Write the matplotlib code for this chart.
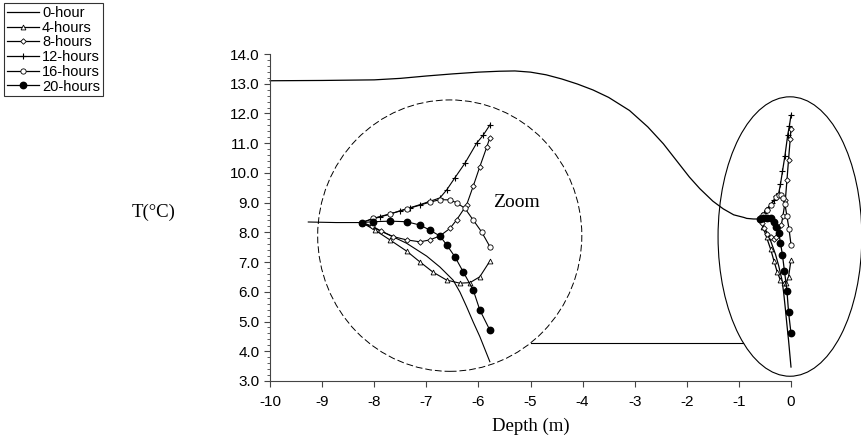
import numpy as np
import matplotlib
matplotlib.use("Agg")
import matplotlib.pyplot as plt
from matplotlib.patches import Ellipse
from matplotlib.ticker import MultipleLocator, FormatStrFormatter

plt.rcParams["font.family"] = ["Liberation Sans", "DejaVu Sans"]
plt.rcParams["axes.unicode_minus"] = False

# ---- data (depth in m, temperature in degC) ----
depth_0h = [-10, -9, -8, -7.5, -7, -6.5, -6, -5.6, -5.3, -5.0, -4.7, -4.4, -4.1, -3.8, -3.5,
            -3.1, -2.75, -2.45, -2.2, -1.95, -1.75, -1.5, -1.3, -1.1, -0.9,
            -0.85, -0.72, -0.60, -0.50, -0.39, -0.296, -0.234, -0.172, -0.140,
            -0.109, -0.078, -0.047, 0.0]
temp_0h = [13.1, 13.11, 13.13, 13.18, 13.26, 13.33, 13.39, 13.42, 13.43, 13.39, 13.3, 13.16, 12.99, 12.79, 12.54,
           12.1, 11.55, 10.98, 10.42, 9.86, 9.47, 9.05, 8.79, 8.59, 8.5,
           8.47, 8.45, 8.45, 8.11, 7.71, 7.25, 6.86, 6.39, 5.96,
           5.44, 4.89, 4.37, 3.47]

depth_4h = [-0.600, -0.538, -0.468, -0.390, -0.327, -0.267, -0.202, -0.140, -0.093, -0.047, 0.0]
temp_4h = [8.45, 8.18, 7.83, 7.43, 7.04, 6.68, 6.39, 6.28, 6.30, 6.51, 7.07]

depth_8h = [-0.600, -0.552, -0.510, -0.454, -0.390, -0.327, -0.281, -0.234, -0.187, -0.156,
            -0.109, -0.078, -0.047, -0.015, 0.0]
temp_8h = [8.45, 8.33, 8.15, 7.95, 7.83, 7.76, 7.83, 7.97, 8.24, 8.54,
           9.08, 9.75, 10.45, 11.14, 11.49]

depth_12h = [-0.600, -0.553, -0.514, -0.468, -0.421, -0.374, -0.327, -0.281, -0.234, -0.202,
             -0.164, -0.117, -0.062, -0.031, 0.0]
temp_12h = [8.45, 8.57, 8.65, 8.75, 8.87, 8.98, 9.09, 9.21, 9.33, 9.62,
            10.05, 10.57, 11.29, 11.58, 11.94]

depth_16h = [-0.600, -0.546, -0.468, -0.390, -0.281, -0.234, -0.187, -0.156, -0.117, -0.078, -0.039, 0.0]
temp_16h = [8.45, 8.60, 8.76, 8.93, 9.18, 9.27, 9.26, 9.16, 8.96, 8.54, 8.12, 7.59]

depth_20h = [-0.600, -0.546, -0.468, -0.390, -0.327, -0.281, -0.234, -0.202, -0.164, -0.125,
             -0.078, -0.047, 0.0]
temp_20h = [8.45, 8.48, 8.50, 8.48, 8.36, 8.18, 7.97, 7.65, 7.23, 6.69,
            6.04, 5.32, 4.60]

labels = ["0-hour", "4-hours", "8-hours", "12-hours", "16-hours", "20-hours"]
depths = [depth_0h, depth_4h, depth_8h, depth_12h, depth_16h, depth_20h]
temps = [temp_0h, temp_4h, temp_8h, temp_12h, temp_16h, temp_20h]

styles = [
    dict(marker=None),
    dict(marker="^", ms=3.5, mfc="white", mec="black", mew=0.6),
    dict(marker="D", ms=2.8, mfc="white", mec="black", mew=0.6),
    dict(marker="+", ms=4, mec="black", mew=0.8),
    dict(marker="o", ms=3.8, mfc="white", mec="black", mew=0.6),
    dict(marker="o", ms=4.6, mfc="black", mec="black"),
]

# zoom inset mapping (magnified near-surface region)
ZX0, ZK = -8.24, 4.1
ZY0, ZS = 8.33, 0.94
Z_MIN_DEPTH = -0.86


def to_zoom(d, t):
    d = np.asarray(d, dtype=float)
    t = np.asarray(t, dtype=float)
    keep = d >= Z_MIN_DEPTH
    return ZX0 + (d[keep] + 0.6) * ZK, ZY0 + (t[keep] - 8.45) * ZS


fig = plt.figure(figsize=(8.62, 4.38), dpi=100)
ax = fig.add_axes([270 / 862, 1 - 381 / 438, (791 - 270) / 862, (381 - 54) / 438])

# inset circle and the ellipse around the surface region
zc = Ellipse((-6.55, 7.89), 5.07, 9.13, fill=False, ec="black", lw=0.7,
             linestyle=(0, (7, 3)), clip_on=False)
ec = Ellipse((-0.02, 7.86), 2.76, 9.4, fill=False, ec="black", lw=0.8, clip_on=False)
ax.add_patch(zc)
ax.add_patch(ec)

# connector between the two
y_c = 4.28
x_left = -6.55 + 2.535 * np.sqrt(1 - ((y_c - 7.89) / 4.565) ** 2)
x_right = -0.02 - 1.38 * np.sqrt(1 - ((y_c - 7.86) / 4.7) ** 2)
ax.plot([x_left, x_right], [y_c, y_c], color="black", lw=0.8)

handles = []
for lab, d, t, st in zip(labels, depths, temps, styles):
    h, = ax.plot(d, t, color="black", lw=0.9, label=lab, clip_on=False, **st)
    handles.append(h)
    zx, zy = to_zoom(d, t)
    ax.plot(zx, zy, color="black", lw=0.8, clip_on=False, **st)

ax.text(-5.72, 9.0, "Zoom", family="Liberation Serif", fontsize=14, va="center", ha="left")

ax.set_xlim(-10, 0)
ax.set_ylim(3, 14)
ax.xaxis.set_major_locator(MultipleLocator(1))
ax.yaxis.set_major_locator(MultipleLocator(1))
ax.yaxis.set_minor_locator(MultipleLocator(0.2))
ax.yaxis.set_major_formatter(FormatStrFormatter("%.1f"))
for s in ["top", "right"]:
    ax.spines[s].set_visible(False)
for s in ["left", "bottom"]:
    ax.spines[s].set_linewidth(0.8)
    ax.spines[s].set_color("#444444")
ax.tick_params(which="major", direction="out", length=4, width=0.8, labelsize=11,
               color="#444444")
ax.tick_params(axis="x", pad=6)
ax.tick_params(which="minor", direction="out", length=2, width=0.6, color="#444444")

ax.set_xlabel("Depth (m)", family="Liberation Serif", fontsize=13.5, labelpad=6)
fig.text(132 / 862, 1 - 212 / 438, "T(\u00b0C)", family="Liberation Serif", fontsize=13.5,
         va="center", ha="left")

leg = fig.legend(handles=handles, loc="upper left", bbox_to_anchor=(4 / 862, 1 - 3 / 438),
                 frameon=True, fancybox=False, fontsize=10.5, handlelength=2.2,
                 handletextpad=0.2, labelspacing=0.05, borderpad=0.2, borderaxespad=0)
leg.get_frame().set_edgecolor("black")
leg.get_frame().set_linewidth(0.8)

fig.savefig("out.png", dpi=100)
